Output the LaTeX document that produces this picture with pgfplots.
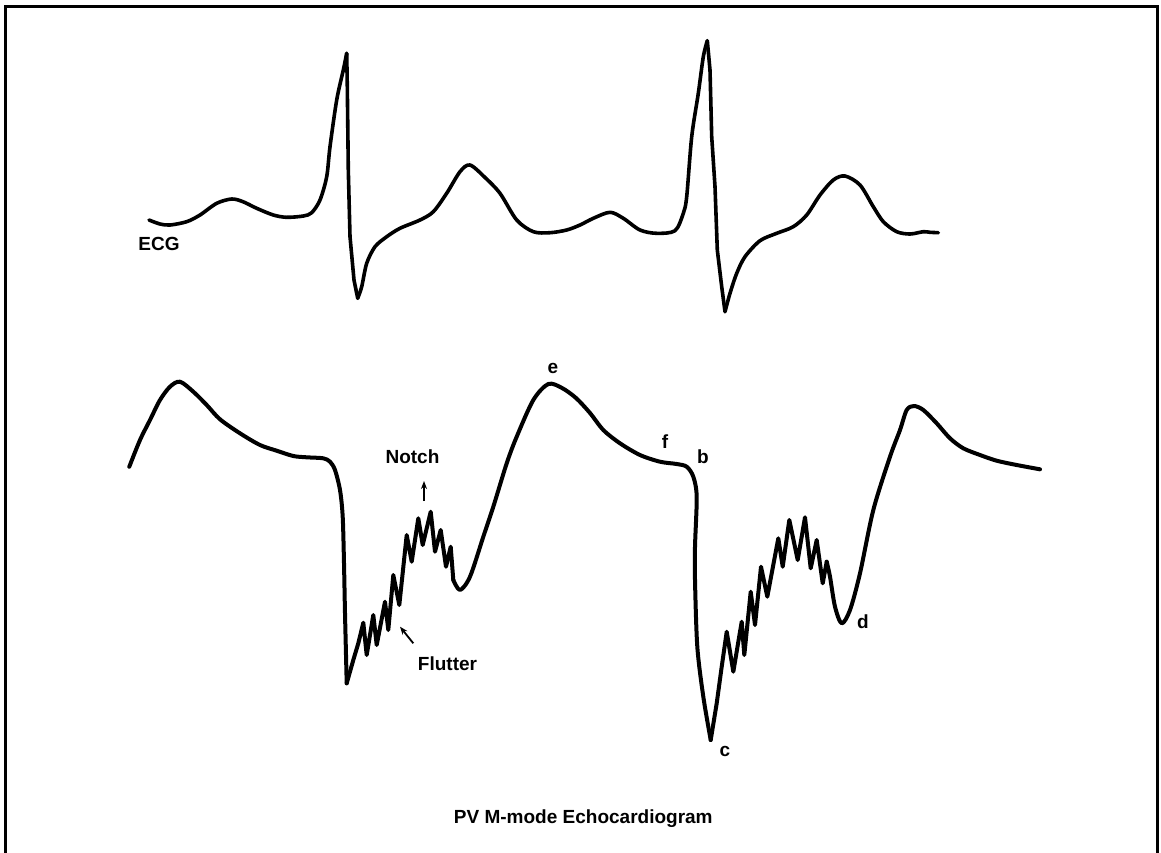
\documentclass[border=0pt]{standalone}
\usepackage{pgfplots}
\pgfplotsset{compat=1.18}
\usepackage{fontspec}
\setmainfont{Liberation Sans}
\usetikzlibrary{arrows.meta}

\begin{document}
\begin{tikzpicture}
\begin{axis}[name=ax, width=580.5pt, height=426pt, scale only axis,
  xmin=0, xmax=1161, ymin=0, ymax=852, y dir=reverse, hide axis, clip=false,
  every axis plot/.append style={black, line join=round, line cap=round}]
% ECG
\addplot[line width=1.8pt, smooth, tension=0.5] coordinates {
(149,220) (160,224) (170,225) (186.7,221.7) (200,215) (216.7,203.3) (231.7,199)
(243,201.7) (256.7,208.3) (273.3,215) (286.7,217.3) (303.3,216) (311.7,212.7)
(320,200) (326.7,176.7) (330,146.7) (336.7,100) (343.3,70) (346.7,53.3)
};
\addplot[line width=1.8pt] coordinates {
(346.7,53.3) (347.3,86.7) (348.3,170) (350,236.7) (354,280) (357.7,298.3)
};
\addplot[line width=1.8pt, smooth, tension=0.5] coordinates {
(357.7,298.3) (361.7,286.7)
(366.7,263.3) (375,246.7) (386.7,236.7) (400,228.3) (420,220) (433.3,211.7)
(446.7,193.3) (460,171.7) (470,165) (485,177.5) (500,193.3) (516.7,220)
(533.3,231.7) (550,232.7) (566.7,230) (580,225) (593.3,218.3) (610,212.3)
(623.3,218.3) (640,230) (656.7,233.3) (675,230.7) (683.3,213.3) (686.7,196.7)
(691.7,136.7) (698.3,93.3) (703.3,56.7) (707.3,40.7)
};
\addplot[line width=1.8pt] coordinates {
(707.3,40.7) (710,70) (711.7,136.7) (715,186.7) (717.3,250) (721.7,286.7) (725,311.7)
};
\addplot[line width=1.8pt, smooth, tension=0.5] coordinates {
(725,311.7) (730,293.3) (736.7,273.3)
(745,256.7) (760,240.7) (776.7,233.3) (793.3,226.7) (806.7,215) (820,195)
(833.3,180) (845,176) (860,185) (873.3,206.7) (883.3,221.7) (896.7,231.7)
(910,234) (923.3,231.7) (930,232.3) (938.3,232.7)
};
% PV M-mode echo
\addplot[line width=2pt, smooth, tension=0.5] coordinates {
(129.3,466.7) (140,440) (150,420) (160,400) (170,386.7) (180,381.7)
(193.3,391.7) (206.7,405) (220,419.3) (240,433.3) (260,445) (276.7,450.7)
(293.3,456) (306.7,457.3) (323.3,458.3) (330,461.7) (335,470) (340,490)
(342.7,516.7) (344,563.3) (345,613.3) (346.7,683.3)
};
\addplot[line width=2pt] coordinates {
(346.7,683.3) (353.3,660) (358.3,643.3)
(363.3,622.7) (366.7,655) (373.3,615) (376.7,645) (385,601.7) (388.3,630)
(393.3,575) (399.3,605) (406.7,535) (411.7,561.7) (418.3,518.3) (422.7,545)
(430.7,511.7) (435,551.7) (440.7,530) (446,566.7) (450.7,546.7) (453.3,580)
};
\addplot[line width=2pt, smooth, tension=0.5] coordinates {
(453.3,580) (460,590) (470,576.7) (483.3,536.7) (493.3,506.7) (506.7,463.3) (516.7,436.7)
(533.3,400) (548.3,384) (562,388) (576,398) (590,413) (603.3,430)
(620,443.3) (640,455) (660,461.7) (676.7,464) (686.7,466.7) (693.3,476.7)
(696.7,496.7) (695,546.7) (695,580) (697.3,646.7) (703.3,696.7) (710.7,740)
};
\addplot[line width=2pt] coordinates {
(710.7,740) (716.7,703.3) (721.7,666.7) (726.7,631.7) (733.3,671.7) (741.7,621.7)
(744.3,655) (750.7,591.7) (755,625) (761,566.7) (767.3,596.7) (778.3,538.3)
(782.7,566.7) (789.3,520) (797.7,560) (805,517.3) (810.7,568.3) (816.7,540)
(822.7,583.3) (826.7,561.7)
};
\addplot[line width=2pt, smooth, tension=0.5] coordinates {
(826.7,561.7) (830,576.7) (835,606.7) (841.7,623.3) (850,610)
(860,573.3) (873.3,510) (890,456.7) (900,430) (906.7,410) (914,406)
(923.3,410) (936.7,423.3) (950,438.3) (963.3,448.3) (980,455) (996.7,460.7)
(1016.7,465) (1040,469.3)
};
% frame
\draw[black, line width=1.1pt] (axis cs:5.5,870) -- (axis cs:5.5,6.5) -- (axis cs:1157.5,6.5) -- (axis cs:1157.5,870);
% arrows
\draw[black, line width=0.9pt, -{Stealth[length=4pt,width=3pt]}] (axis cs:424,501) -- (axis cs:424,481);
\draw[black, line width=0.9pt, -{Stealth[length=4pt,width=3pt]}] (axis cs:413.3,643.3) -- (axis cs:400,626.7);
% labels
\begin{scope}[every node/.style={font=\fontsize{9.5}{11}\selectfont\bfseries, inner sep=0pt}]
\node[anchor=base] at (axis cs:159,250) {ECG};
\node[anchor=base] at (axis cs:412.5,463) {Notch};
\node[anchor=base] at (axis cs:447.5,670) {Flutter};
\node[anchor=base] at (axis cs:553,373) {e};
\node[anchor=base] at (axis cs:665,448) {f};
\node[anchor=base] at (axis cs:703,463) {b};
\node[anchor=base] at (axis cs:725,756.7) {c};
\node[anchor=base] at (axis cs:863,628) {d};
\node[anchor=base] at (axis cs:583.3,823) {PV M-mode Echocardiogram};
\end{scope}
\end{axis}
\pgfresetboundingbox
\path (ax.south west) rectangle (ax.north east);
\end{tikzpicture}
\end{document}
